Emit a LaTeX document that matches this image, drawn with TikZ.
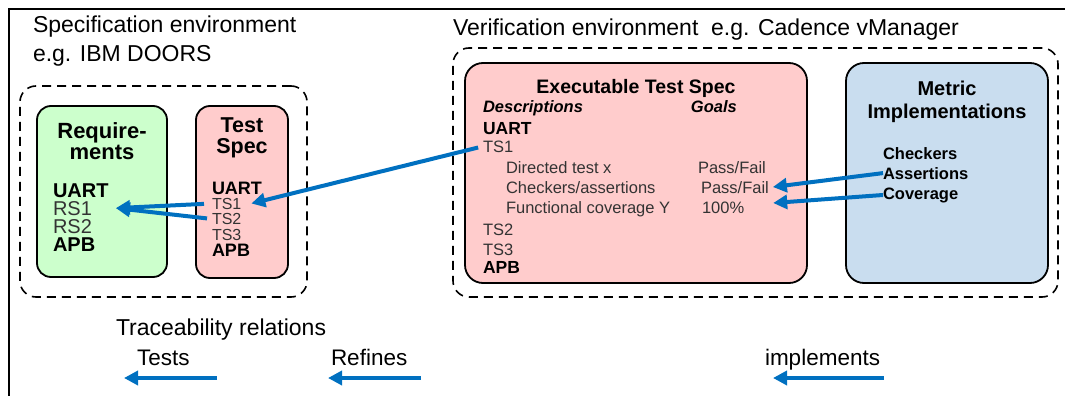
\documentclass[tikz,border=0pt]{standalone}
\usepackage{fontspec}
\setmainfont{Liberation Sans}
\usetikzlibrary{arrows.meta}
\newcommand{\myfs}[1]{\fontsize{#1}{#1}\selectfont}
\definecolor{reqgreen}{HTML}{CCFFCC}
\definecolor{specpink}{HTML}{FFCCCC}
\definecolor{metblue}{HTML}{C9DDEF}
\definecolor{arrblue}{HTML}{0070C0}
\definecolor{txtgray}{HTML}{333333}
\begin{document}
\begin{tikzpicture}[x=1pt,y=-1pt,
  txt/.style={inner sep=0pt, outer sep=0pt, anchor=base west, text=black},
  ctxt/.style={inner sep=0pt, outer sep=0pt, anchor=base, text=black},
  box/.style={draw=black, line width=1.8pt, rounded corners=14pt, inner sep=0pt, outer sep=0pt},
  envbox/.style={draw=black, line width=1.6pt, dash pattern=on 9pt off 6pt, rounded corners=16pt, inner sep=0pt},
  link/.style={draw=arrblue, line width=4pt, -{Triangle[length=14pt,width=14pt]}},
]
\useasboundingbox (0,0) rectangle (1065,396);
\draw[line width=2pt] (1065,9.5) -- (8.5,9.5) -- (8.5,396);

% environment titles
\node[txt] (spectitle) at (33,33) {\myfs{23}Specification environment};
\node[txt] (spectitleb) at (33,62) {\myfs{23}e.g. IBM DOORS};
\node[txt] (vertitle) at (453,36) {\myfs{23}Verification environment\ \ e.g. Cadence vManager};

% environment boxes
\node[envbox, minimum width=287pt, minimum height=211pt] (specenv) at (163.5,191.5) {};
\node[envbox, minimum width=605pt, minimum height=249pt] (verenv) at (755.5,172.5) {};

% inner boxes
\node[box, fill=reqgreen, minimum width=130pt, minimum height=171pt] (req) at (102,191.5) {};
\node[box, fill=specpink, minimum width=92pt, minimum height=172pt] (tspec) at (242,192) {};
\node[box, fill=specpink, rounded corners=18pt, minimum width=342pt, minimum height=220pt] (exec) at (636,173) {};
\node[box, fill=metblue, rounded corners=18pt, minimum width=202pt, minimum height=220pt] (metric) at (947,173) {};

% Requirements
\node[ctxt] (reqT1) at (102,138) {\myfs{22}\bfseries Require-};
\node[ctxt] (reqT2) at (102,159) {\myfs{22}\bfseries ments};
\node[txt] (reqU) at (53,197) {\myfs{20}\bfseries UART};
\node[txt, text=txtgray] (reqRSa) at (53,215) {\myfs{20}RS1};
\node[txt, text=txtgray] (reqRSb) at (53,233) {\myfs{20}RS2};
\node[txt] (reqA) at (53,251) {\myfs{20}\bfseries APB};

% Test Spec
\node[ctxt] (tsT1) at (242,132) {\myfs{21.5}\bfseries Test};
\node[ctxt] (tsT2) at (242,153) {\myfs{21.5}\bfseries Spec};
\node[txt] (tsU) at (212,194) {\myfs{18}\bfseries UART};
\node[txt, text=txtgray] (tsTSa) at (212,209) {\myfs{16}TS1};
\node[txt, text=txtgray] (tsTSb) at (212,224.5) {\myfs{16}TS2};
\node[txt, text=txtgray] (tsTSc) at (212,240) {\myfs{16}TS3};
\node[txt] (tsA) at (212,256.5) {\myfs{18}\bfseries APB};

% Executable Test Spec
\node[ctxt] (exT) at (636,93) {\myfs{19.5}\bfseries Executable Test Spec};
\node[txt] (exD) at (483,112) {\myfs{16.5}\bfseries\itshape Descriptions};
\node[inner sep=0pt, anchor=base east] (exG) at (737,112) {\myfs{16.5}\bfseries\itshape Goals};
\node[txt] (exU) at (483,134) {\myfs{17.5}\bfseries UART};
\node[txt, text=txtgray] (exTSa) at (483,152) {\myfs{16.5}TS1};
\node[txt, text=txtgray] (exDir) at (506,173) {\myfs{16.5}Directed test x};
\node[txt, text=txtgray] (exChk) at (506,193) {\myfs{16.5}Checkers/assertions};
\node[txt, text=txtgray] (exFun) at (506,213) {\myfs{16.5}Functional coverage Y};
\node[txt, text=txtgray] (pfa) at (698,173) {\myfs{16.5}Pass/Fail};
\node[txt, text=txtgray] (pfb) at (701,193) {\myfs{16.5}Pass/Fail};
\node[txt, text=txtgray] (pct) at (702,213) {\myfs{16.5}100\%};
\node[txt, text=txtgray] (exTSb) at (483,235) {\myfs{16.5}TS2};
\node[txt, text=txtgray] (exTSc) at (483,255) {\myfs{16.5}TS3};
\node[txt] (exA) at (483,273) {\myfs{17.5}\bfseries APB};

% Metric Implementations
\node[ctxt] (mT1) at (947,95) {\myfs{20}\bfseries Metric};
\node[ctxt] (mT2) at (947,118) {\myfs{20}\bfseries Implementations};
\node[txt] (mChk) at (883,159) {\myfs{16.5}\bfseries Checkers};
\node[txt] (mAss) at (883,179) {\myfs{16.5}\bfseries Assertions};
\node[txt] (mCov) at (883,199) {\myfs{16.5}\bfseries Coverage};

% connectors
\draw[link, shorten <=5pt] (exTSa.west) -- ([xshift=10pt]tsTSa.east);
\draw[link, shorten <=8pt] (tsTSa.west) -- ([xshift=24pt]reqRSa.east);
\draw[link, shorten <=5pt] (tsTSb.west) -- ([xshift=24pt]reqRSa.east);
\draw[link] (mAss.west) -- ([xshift=4pt,yshift=6pt]pfb.base east);
\draw[link] (mCov.west) -- ([xshift=29pt,yshift=10pt]pct.base east);

% legend
\node[txt] (trace) at (116,335) {\myfs{23}Traceability relations};
\node[txt] (lgTests) at (137,365) {\myfs{22.5}Tests};
\node[txt] (lgRef) at (331,365) {\myfs{22.5}Refines};
\node[txt] (lgImp) at (765,365) {\myfs{22.5}implements};
\coordinate (tA) at (217,378);
\coordinate (tB) at (124,378);
\coordinate (rA) at (421,378);
\coordinate (rB) at (328,378);
\coordinate (iA) at (884,378);
\coordinate (iB) at (773,378);
\draw[link] (tA) -- (tB);
\draw[link] (rA) -- (rB);
\draw[link] (iA) -- (iB);
\end{tikzpicture}
\end{document}
